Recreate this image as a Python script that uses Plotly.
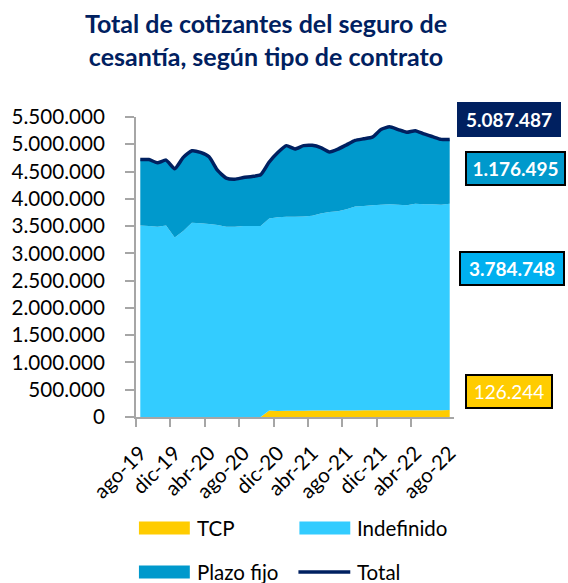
import plotly.graph_objects as go

months = ["ago-19", "sep-19", "oct-19", "nov-19", "dic-19", "ene-20", "feb-20", "mar-20",
          "abr-20", "may-20", "jun-20", "jul-20", "ago-20", "sep-20", "oct-20", "nov-20",
          "dic-20", "ene-21", "feb-21", "mar-21", "abr-21", "may-21", "jun-21", "jul-21",
          "ago-21", "sep-21", "oct-21", "nov-21", "dic-21", "ene-22", "feb-22", "mar-22",
          "abr-22", "may-22", "jun-22", "jul-22", "ago-22"]

tcp = [0, 0, 0, 0, 0, 0, 0, 0, 0, 0, 0, 0, 0, 0, 0,
       120000, 112000, 114000, 115000, 116000, 117000, 118000, 118000, 119000, 120000,
       121000, 122000, 122000, 123000, 124000, 124000, 124000, 125000, 125000, 126000,
       126000, 126244]

indefinido = [3510000, 3500000, 3490000, 3510000, 3290000, 3410000, 3560000, 3550000,
              3540000, 3520000, 3490000, 3490000, 3500000, 3500000, 3500000, 3520000,
              3548000, 3556000, 3555000, 3559000, 3573000, 3612000, 3642000, 3651000,
              3690000, 3739000, 3748000, 3758000, 3767000, 3776000, 3766000, 3756000,
              3785000, 3775000, 3774000, 3764000, 3784748]

plazo_fijo = [1210000, 1220000, 1170000, 1200000, 1260000, 1350000, 1320000, 1300000,
              1230000, 1000000, 890000, 870000, 890000, 910000, 940000, 1035000,
              1190000, 1305000, 1245000, 1300000, 1290000, 1210000, 1100000, 1140000,
              1180000, 1210000, 1230000, 1250000, 1380000, 1420000, 1380000, 1340000,
              1340000, 1290000, 1240000, 1200000, 1176495]

total = [4720000, 4720000, 4660000, 4710000, 4550000, 4760000, 4880000, 4850000,
         4770000, 4520000, 4380000, 4360000, 4390000, 4410000, 4440000, 4675000,
         4850000, 4975000, 4915000, 4975000, 4980000, 4940000, 4860000, 4910000,
         4990000, 5070000, 5100000, 5130000, 5270000, 5320000, 5270000, 5220000,
         5250000, 5190000, 5140000, 5090000, 5087487]

last_labels = ["5.087.487", "1.176.495", "3.784.748", "126.244"]
legend_names = ["TCP", "Indefinido", "Plazo fijo", "Total"]

C_TCP = "#FFCC00"
C_IND = "#33CCFF"
C_PF = "#0099CC"
C_TOT = "#002060"
AX = "#A6A6A6"
FONT = "Lato"

x = list(range(len(months)))

fig = go.Figure()
for name, vals, col in [("TCP", tcp, C_TCP), ("Indefinido", indefinido, C_IND),
                        ("Plazo fijo", plazo_fijo, C_PF)]:
    fig.add_trace(go.Scatter(x=x, y=vals, name=name, stackgroup="one", mode="none",
                             fillcolor=col, line=dict(width=0), showlegend=False))
fig.add_trace(go.Scatter(x=x, y=total, name="Total", mode="lines",
                         line=dict(color=C_TOT, width=3.5, shape="spline", smoothing=0.5),
                         showlegend=False))

# plot area in pixels
W, H = 568, 583
L, R, T, B = 129, 454, 117, 417


def px(xp):
    return (xp - L) / (R - L)


def py(yp):
    return (B - yp) / (B - T)


fig.update_layout(
    width=W, height=H,
    margin=dict(l=L, r=W - R, t=T, b=H - B, pad=0),
    paper_bgcolor="white", plot_bgcolor="white",
    separators=",.",
    font=dict(family=FONT, color="#000000", size=19),
    title=dict(text="<b>Total de cotizantes del seguro de<br>cesantía, según tipo de contrato</b>",
               x=266 / W, xanchor="center", xref="container",
               y=1 - 33 / H, yanchor="middle", yref="container",
               font=dict(family=FONT, size=25, color=C_TOT)),
    xaxis=dict(range=[-0.5, 36.5], tickmode="array", tickvals=x[::4], ticktext=months[::4],
               tickangle=-45, ticks="", showgrid=False, zeroline=False,
               showline=True, linecolor=AX, linewidth=2,
               tickfont=dict(family=FONT, size=20.5, color="#000"),
               ticklabelstandoff=14,
               minor=dict(tickmode="array", tickvals=[v - 0.5 for v in x[::4][:-1]],
                          ticks="outside", ticklen=8, tickcolor=AX, tickwidth=2,
                          showgrid=False)),
    yaxis=dict(range=[0, 5500000], tickmode="linear", tick0=0, dtick=500000,
               tickformat=",.0f", showgrid=False, zeroline=False,
               showline=True, linecolor=AX, linewidth=2,
               ticks="outside", ticklen=9, tickcolor=AX, tickwidth=2,
               ticklabelstandoff=16,
               tickfont=dict(family=FONT, size=20.6, color="#000")),
)

# value boxes at the right
boxes = [
    (last_labels[0], 510, 119.5, C_TOT, 0, True),
    (last_labels[1], 516.5, 168.5, C_PF, 2, True),
    (last_labels[2], 513, 268, "#00B0F0", 2, True),
    (last_labels[3], 510, 391, C_TCP, 2, False),
]
widths = [100, 93, 98, 80]
for (txt, cx, cy, bg, bw, bold), wd in zip(boxes, widths):
    fig.add_annotation(text=f"<b>{txt}</b>" if bold else txt,
                       xref="paper", yref="paper", x=px(cx), y=py(cy),
                       xanchor="center", yanchor="middle", showarrow=False,
                       bgcolor=bg, bordercolor="#000000" if bw else bg, borderwidth=bw,
                       borderpad=2, width=wd, height=27 if bw else 31,
                       font=dict(family=FONT, size=19, color="white"))

# legend
leg = [
    (legend_names[0], C_TCP, 132, 184, 528, "rect", 189),
    (legend_names[1], C_IND, 296, 348, 528, "rect", 353),
    (legend_names[2], C_PF, 132, 184, 572, "rect", 189),
    (legend_names[3], C_TOT, 295, 348, 572, "line", 353),
]
for name, col, x0, x1, yc, kind, tx in leg:
    if kind == "rect":
        fig.add_shape(type="rect", xref="paper", yref="paper",
                      x0=px(x0), x1=px(x1), y0=py(yc - 6.5), y1=py(yc + 6.5),
                      fillcolor=col, line=dict(width=0))
    else:
        fig.add_shape(type="line", xref="paper", yref="paper",
                      x0=px(x0), x1=px(x1), y0=py(yc), y1=py(yc),
                      line=dict(color=col, width=3.5))
    fig.add_annotation(text=name, xref="paper", yref="paper", x=px(tx), y=py(yc),
                       xanchor="left", yanchor="middle", showarrow=False,
                       font=dict(family=FONT, size=20.5, color="#000"))

fig.write_html("out.html", config={"displayModeBar": False},
               post_script="document.body.style.margin='0';")
